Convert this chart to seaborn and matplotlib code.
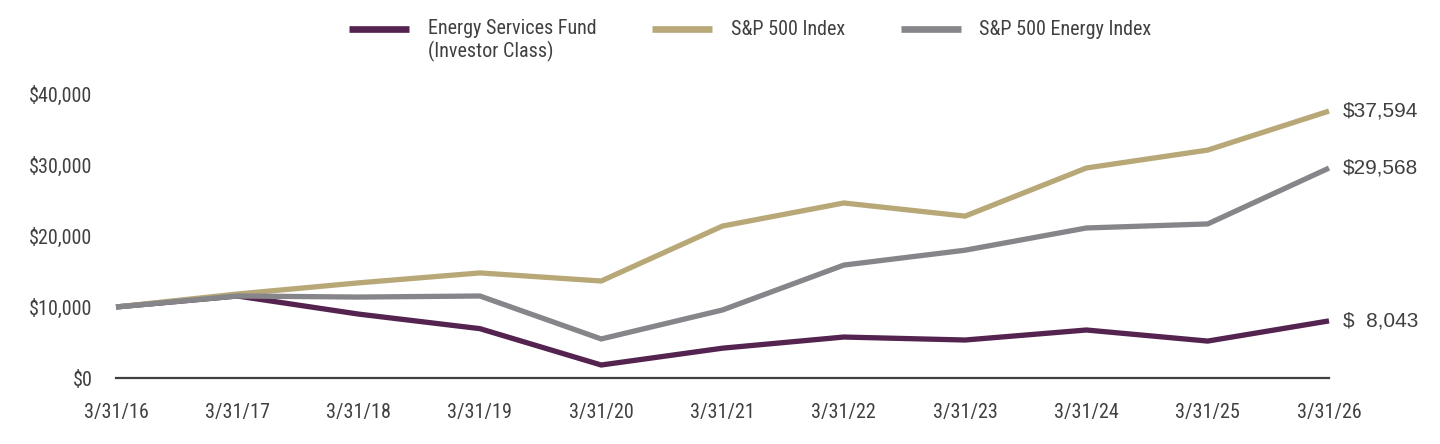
import pandas as pd
import matplotlib
matplotlib.use("Agg")
import matplotlib.pyplot as plt
import seaborn as sns

# 資料：每年 3/31 的 $10,000 投資成長
dates = ["3/31/16", "3/31/17", "3/31/18", "3/31/19", "3/31/20", "3/31/21",
         "3/31/22", "3/31/23", "3/31/24", "3/31/25", "3/31/26"]
fund = [10000, 11550, 9000, 6950, 1830, 4200, 5770, 5350, 6760, 5200, 8043]
sp500 = [10000, 11830, 13400, 14800, 13660, 21400, 24650, 22800, 29580, 32100, 37594]
energy = [10000, 11550, 11400, 11550, 5500, 9580, 15900, 18000, 21130, 21700, 29568]
series_names = ["Energy Services Fund\n(Investor Class)", "S&P 500 Index", "S&P 500 Energy Index"]
end_labels = ["$  8,043", "$37,594", "$29,568"]
colors = ["#54234F", "#B8A878", "#86868A"]

narrow = ["Roboto Condensed", "DejaVu Sans"]
text_color = "#404040"

sns.set_style("white")
plt.rcParams["font.family"] = narrow

rows = []
for name, vals in zip(series_names, [fund, sp500, energy]):
    for i, v in enumerate(vals):
        rows.append({"x": i, "value": v, "series": name})
df = pd.DataFrame(rows)

fig = plt.figure(figsize=(14.4, 4.44), dpi=100)
ax = fig.add_axes([116 / 1440, 66 / 444, 1213 / 1440, 284 / 444])

sns.lineplot(data=df, x="x", y="value", hue="series", hue_order=series_names,
             palette=colors, linewidth=3.8, legend=False, ax=ax, clip_on=False,
             solid_capstyle="butt", solid_joinstyle="miter")

ax.set_xlim(0, len(dates) - 1)
ax.set_ylim(0, 40000)
ax.set_xticks(range(len(dates)))
ax.set_xticklabels(dates)
ax.set_yticks([0, 10000, 20000, 30000, 40000])
ax.set_yticklabels(["$0", "$10,000", "$20,000", "$30,000", "$40,000"])
ax.tick_params(axis="both", length=0, labelsize=14.5, colors=text_color)
ax.tick_params(axis="y", pad=17)
ax.tick_params(axis="x", pad=18)
ax.set_xlabel("")
ax.set_ylabel("")

for side in ["top", "right", "left"]:
    ax.spines[side].set_visible(False)
ax.spines["bottom"].set_color("#404040")
ax.spines["bottom"].set_linewidth(1.6)

# 線尾數值標籤
for vals, lab in zip([fund, sp500, energy], end_labels):
    ax.annotate(lab, xy=(len(dates) - 1, vals[-1]), xytext=(10, 0),
                textcoords="offset points", va="center", ha="left",
                fontsize=15, color=text_color, family=["Liberation Sans", "DejaVu Sans"])

# 圖例：每個標籤都補成兩行，讓色塊對齊第一行
legend_labels = [n if "\n" in n else n + "\n" for n in series_names]
handles = ax.get_lines()[:3]
leg = fig.legend(handles, legend_labels, loc="upper left", bbox_to_anchor=(349 / 1440, 1 - 19 / 444),
                 ncol=3, frameon=False, fontsize=14.5, handlelength=3.0, handletextpad=0.92,
                 columnspacing=2.75, labelcolor=text_color, borderpad=0, borderaxespad=0)
for h in leg.legend_handles:
    h.set_linewidth(4.8)
    h.set_solid_capstyle("butt")
    h.set_ydata([y + 8.5 for y in h.get_ydata()])

fig.savefig("out.png", dpi=100)
